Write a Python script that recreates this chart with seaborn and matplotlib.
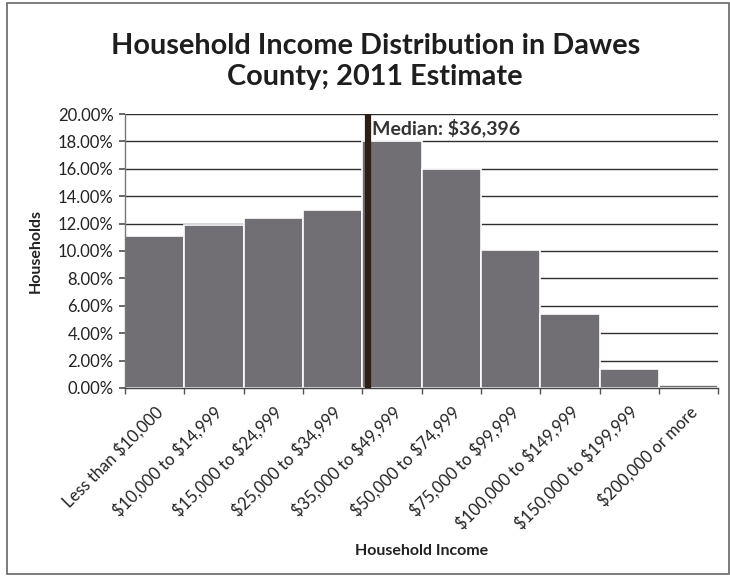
import matplotlib
matplotlib.use("Agg")
import matplotlib.pyplot as plt
import matplotlib.ticker as mticker
from matplotlib.patches import Rectangle
import seaborn as sns
import pandas as pd

# Income brackets and share of households (%)
categories = [
    "Less than $10,000", "$10,000 to $14,999", "$15,000 to $24,999",
    "$25,000 to $34,999", "$35,000 to $49,999", "$50,000 to $74,999",
    "$75,000 to $99,999", "$100,000 to $149,999", "$150,000 to $199,999",
    "$200,000 or more",
]
households_pct = [11.1, 11.9, 12.4, 13.0, 18.0, 16.0, 10.1, 5.4, 1.4, 0.2]

# Median household income and the bracket it falls in
median_income = 36396
median_bracket = 4
median_bracket_low = 35000
median_bracket_high = 50000

y_ticks = [0, 2, 4, 6, 8, 10, 12, 14, 16, 18, 20]

sns.set_theme(style="white")
plt.rcParams["font.family"] = ["Lato", "DejaVu Sans"]
plt.rcParams["text.parse_math"] = False

df = pd.DataFrame({"Household Income": categories, "Households": households_pct})

fig = plt.figure(figsize=(7.30, 5.77), dpi=100)
ax = fig.add_axes([0.171, 0.3276, 0.813, 0.4748])

ax.set_axisbelow(True)
ax.yaxis.grid(True, color="#2e2e2e", linewidth=1.0)

sns.barplot(data=df, x="Household Income", y="Households", ax=ax,
            width=1.0, color="#716f73", saturation=1,
            edgecolor="white", linewidth=1.2, zorder=2)

# median marker inside its bracket
frac = (median_income - median_bracket_low) / (median_bracket_high - median_bracket_low)
median_x = median_bracket - 0.5 + frac
ax.axvline(median_x, ymin=0, ymax=1, color="#2b1f17", linewidth=4.5, zorder=3)
ax.text(median_x + 0.08, 19.0, f"Median: ${median_income:,}",
        fontsize=14, fontweight="bold", color="#333333",
        ha="left", va="center", zorder=4)

ax.set_xlim(-0.5, len(categories) - 0.5)
ax.set_ylim(0, 20)
ax.set_yticks(y_ticks)
ax.yaxis.set_major_formatter(mticker.FuncFormatter(lambda v, p: f"{v:.2f}%"))

ax.set_xticks(range(len(categories)))
ax.set_xticklabels(categories, rotation=45, ha="right", rotation_mode="anchor",
                   fontsize=12, color="#222222")
ax.set_xticks([i - 0.5 for i in range(len(categories) + 1)], minor=True)
ax.tick_params(axis="x", which="major", length=0, pad=11)
ax.tick_params(axis="x", which="minor", length=4, color="#555555", direction="out")
ax.tick_params(axis="y", length=4, color="#555555", direction="out", labelsize=12,
               labelcolor="#222222", pad=4)
ax.yaxis.set_ticks_position("left")
ax.xaxis.set_ticks_position("bottom")

for s in ["top", "right"]:
    ax.spines[s].set_visible(False)
ax.spines["left"].set_color("#777777")
ax.spines["bottom"].set_color("#444444")
ax.spines["left"].set_linewidth(1.0)
ax.spines["bottom"].set_linewidth(1.0)

ax.set_xlabel("Household Income", fontsize=11.5, fontweight="bold", color="#222222")
ax.set_ylabel("Households", fontsize=11.5, fontweight="bold", color="#222222")
ax.xaxis.set_label_coords(0.5, -0.57)
ax.yaxis.set_label_coords(-0.138, 0.5)

fig.text(0.514, 0.893, "Household Income Distribution in Dawes\nCounty; 2011 Estimate",
         ha="center", va="center", fontsize=20.8, fontweight="bold",
         color="#1e1e1e", linespacing=1.25)

fig.patches.append(Rectangle((0.010, 0.006), 0.988, 0.988, transform=fig.transFigure,
                             fill=False, edgecolor="#666666", linewidth=1.2))

fig.savefig("out.png", dpi=100, facecolor="white")
